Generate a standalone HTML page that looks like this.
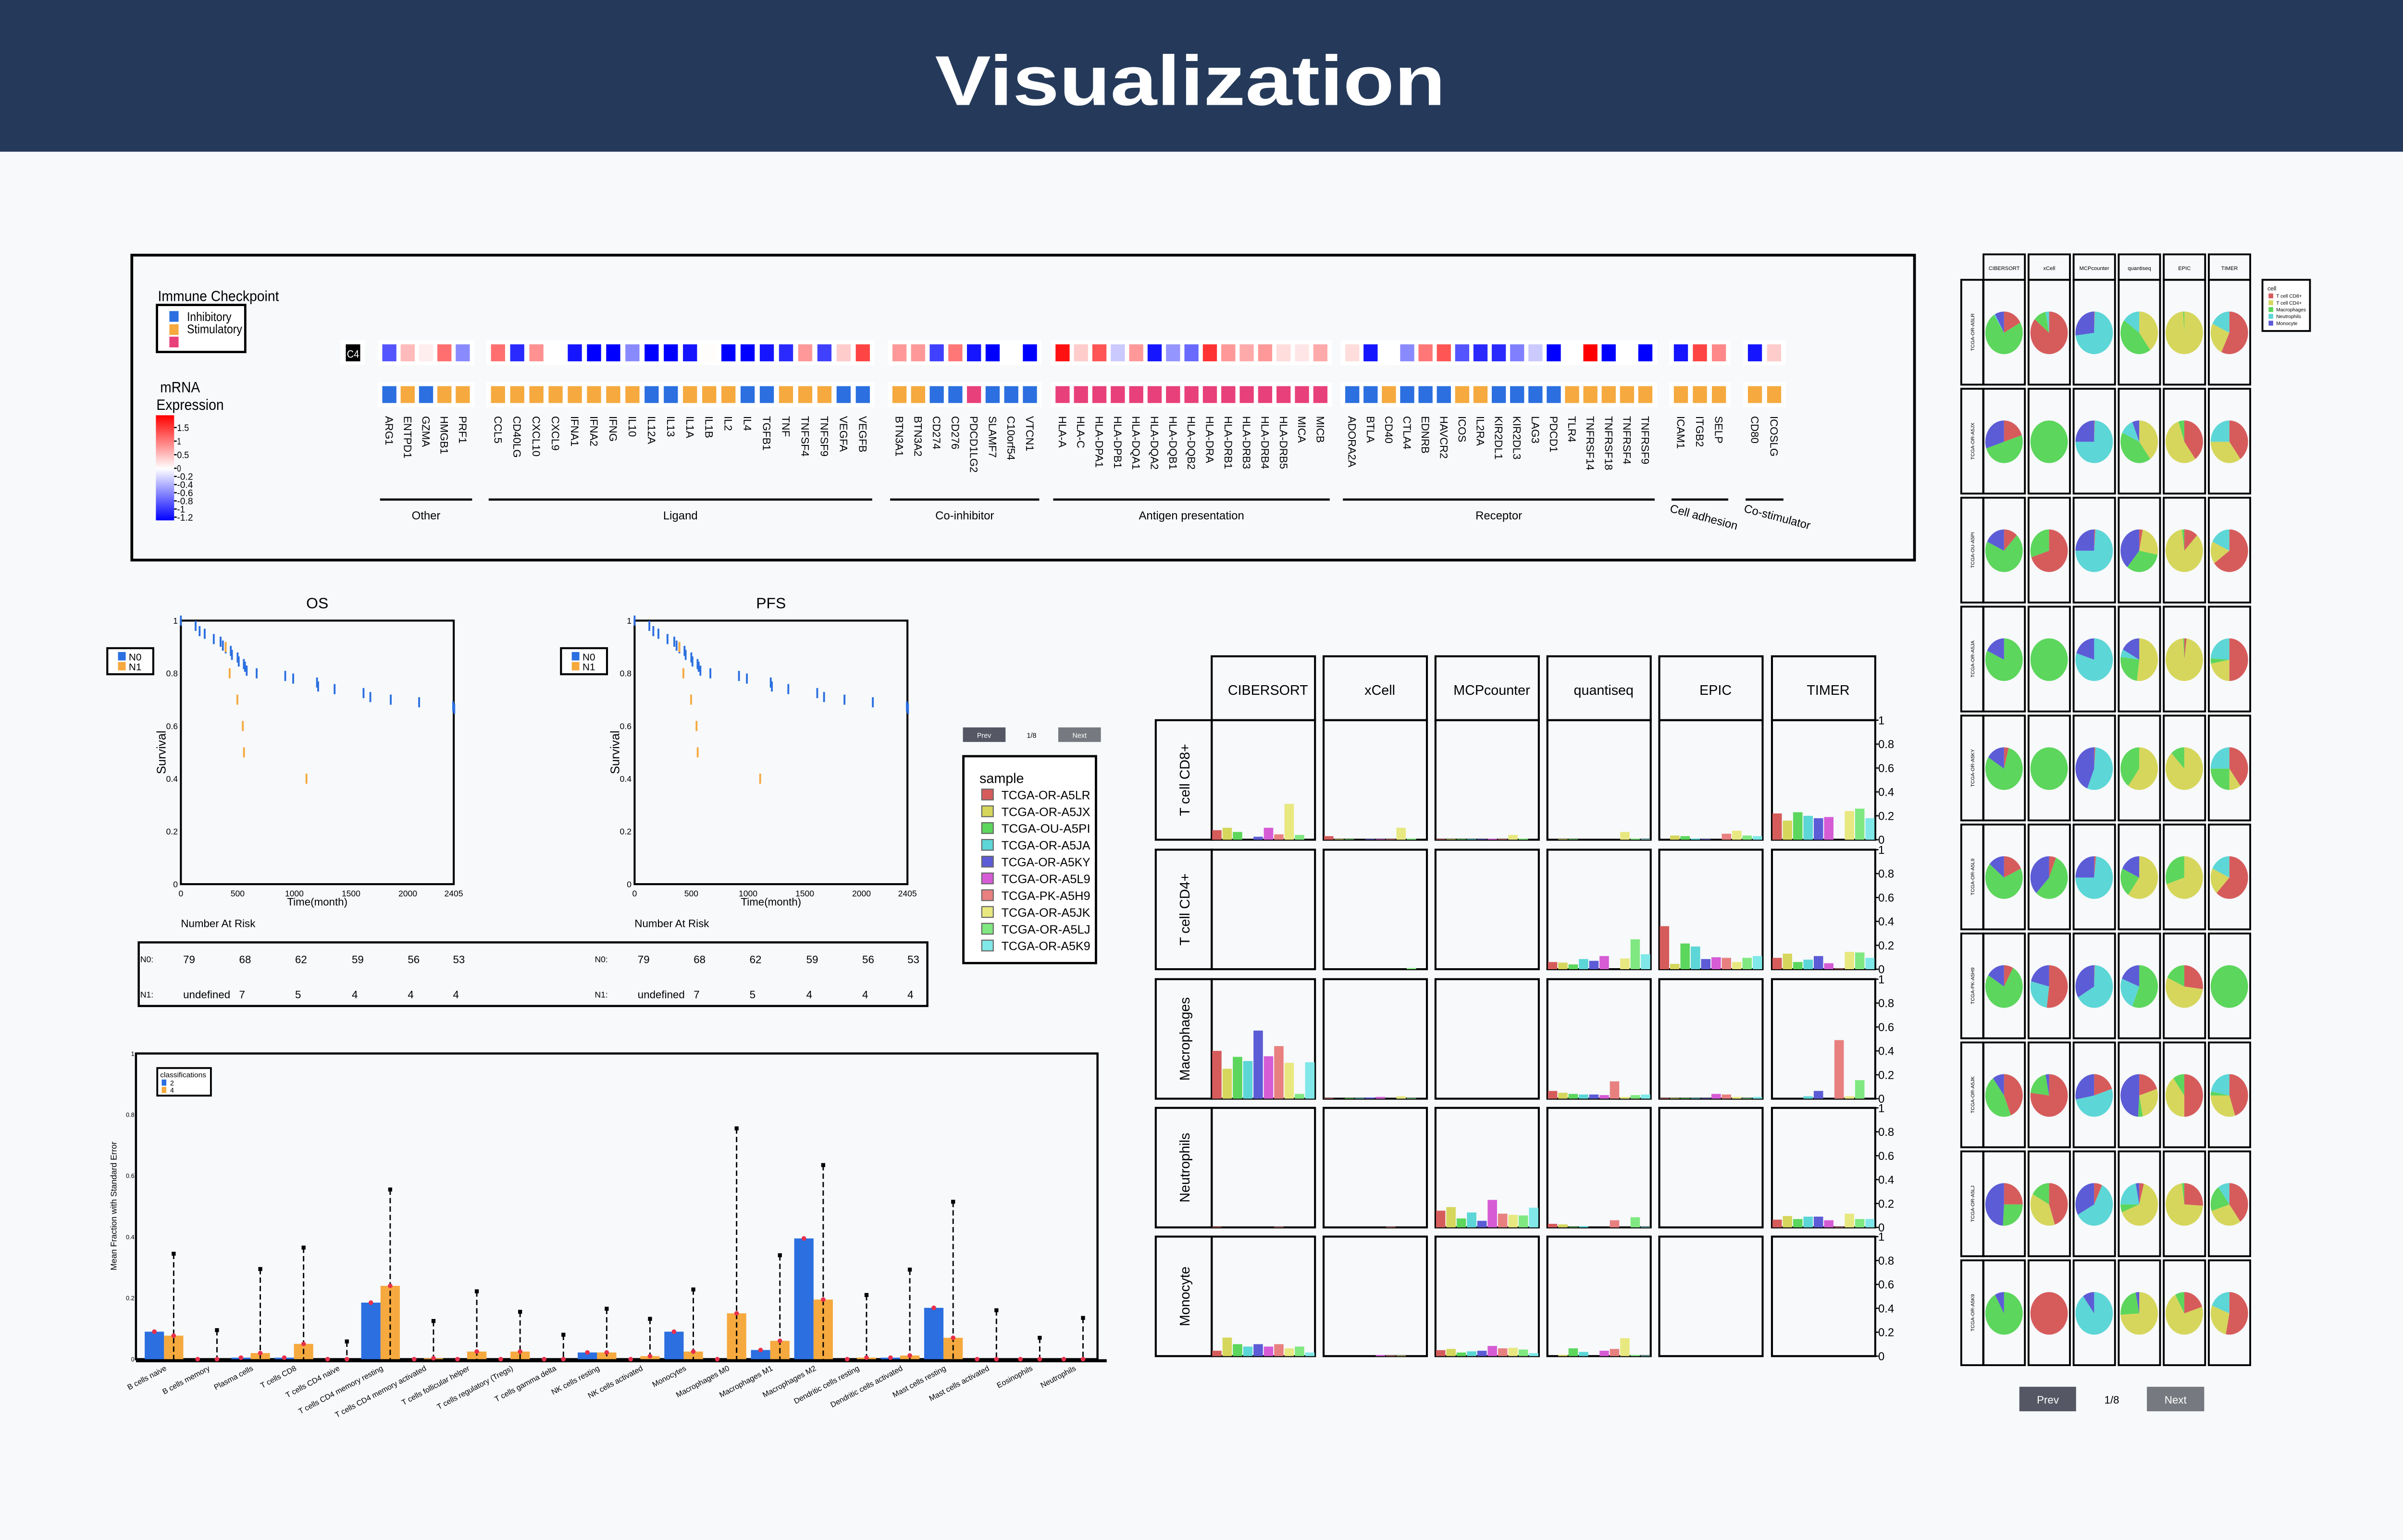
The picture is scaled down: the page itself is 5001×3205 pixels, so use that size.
<!DOCTYPE html>
<html><head><meta charset="utf-8"><style>
html,body{margin:0;padding:0;background:#f7f9fb;}
svg{display:block;font-family:"Liberation Sans",Arial,sans-serif;}
</style></head><body>
<svg id="root" xmlns="http://www.w3.org/2000/svg" width="5001" height="3205" viewBox="0 0 1568 1005" preserveAspectRatio="none">
<rect x="0" y="0" width="1568" height="1005" fill="#f7f9fb"/>
<rect x="0" y="0" width="1568" height="99" fill="#253a5a"/>
<text x="776.5" y="68.5" font-size="46" font-weight="bold" fill="#ffffff" text-anchor="middle" textLength="333" lengthAdjust="spacingAndGlyphs">Visualization</text>
<rect x="86" y="166.5" width="1163" height="199" fill="none" stroke="#000" stroke-width="1.8"/>
<text x="103" y="196.4" font-size="9.5" textLength="79" lengthAdjust="spacingAndGlyphs">Immune Checkpoint</text>
<rect x="102.4" y="199" width="57.6" height="30.7" fill="#fff" stroke="#000" stroke-width="1.5"/>
<rect x="110.5" y="203" width="6" height="7" fill="#2b6fe0"/>
<rect x="110.5" y="211.6" width="6" height="7" fill="#f5a93e"/>
<rect x="110.5" y="219.7" width="6" height="7" fill="#e8407a"/>
<text x="122" y="209.5" font-size="8" textLength="29" lengthAdjust="spacingAndGlyphs">Inhibitory</text>
<text x="122" y="217.5" font-size="8" textLength="36" lengthAdjust="spacingAndGlyphs">Stimulatory</text>
<text x="104.5" y="256" font-size="10" textLength="26" lengthAdjust="spacingAndGlyphs">mRNA</text>
<text x="102" y="267.5" font-size="10" textLength="44" lengthAdjust="spacingAndGlyphs">Expression</text>
<defs><linearGradient id="cbar" x1="0" y1="0" x2="0" y2="1">
<stop offset="0" stop-color="#ff0000"/><stop offset="0.508" stop-color="#ffffff"/><stop offset="1" stop-color="#0000ff"/></linearGradient></defs>
<rect x="101.7" y="271" width="11.9" height="68.6" fill="url(#cbar)"/>
<g id="hm"></g>
<g id="km"></g>
<g id="bars"></g>
<g id="grid"></g>
<g id="pies"></g>
</svg>
<script>
// ===== Heatmap data =====
const hmGroupNames = ["Other","Ligand","Co-inhibitor","Antigen presentation","Receptor","Cell adhesion","Co-stimulator"];
const hmGenes = [
 ["ARG1","ENTPD1","GZMA","HMGB1","PRF1"],
 ["CCL5","CD40LG","CXCL10","CXCL9","IFNA1","IFNA2","IFNG","IL10","IL12A","IL13","IL1A","IL1B","IL2","IL4","TGFB1","TNF","TNFSF4","TNFSF9","VEGFA","VEGFB"],
 ["BTN3A1","BTN3A2","CD274","CD276","PDCD1LG2","SLAMF7","C10orf54","VTCN1"],
 ["HLA-A","HLA-C","HLA-DPA1","HLA-DPB1","HLA-DQA1","HLA-DQA2","HLA-DQB1","HLA-DQB2","HLA-DRA","HLA-DRB1","HLA-DRB3","HLA-DRB4","HLA-DRB5","MICA","MICB"],
 ["ADORA2A","BTLA","CD40","CTLA4","EDNRB","HAVCR2","ICOS","IL2RA","KIR2DL1","KIR2DL3","LAG3","PDCD1","TLR4","TNFRSF14","TNFRSF18","TNFRSF4","TNFRSF9"],
 ["ICAM1","ITGB2","SELP"],
 ["CD80","ICOSLG"]];
const hmExpr = [
 [-0.8,0.4,0.1,0.85,-0.55],
 [0.85,-1.0,0.65,0,-1.1,-1.2,-1.2,-0.55,-1.2,-1.2,-1.1,0.02,-1.2,-1.2,-1.1,-1.0,0.6,-0.9,0.3,1.1],
 [0.6,0.6,-0.9,0.8,-1.1,-1.2,0,-1.2],
 [1.4,0.3,1.0,-0.25,0.6,-1.1,-0.5,-0.7,1.2,0.6,0.5,0.6,0.2,0.15,0.5],
 [0.2,-1.1,0,-0.55,0.8,1.0,-0.8,-1.0,-1.0,-0.6,-0.25,-1.2,0,1.5,-1.2,0,-1.2],
 [-1.1,1.1,0.7],
 [-1.1,0.3]];
const hmType = [
 "BOBOO","OOOOOOOOBBOOOBBOOOBB","OOBBPBBB","PPPPPPPPPPPPPPP","BBOBBBOOBBBBOOOOO","OOO","OO"];
const cbTickLabels = ["1.5","1","0.5","0","-0.2","-0.4","-0.6","-0.8","-1","-1.2"];
const cbTickValues = [1.5,1,0.5,0,-0.2,-0.4,-0.6,-0.8,-1,-1.2];

// ===== KM data =====
const kmTicks = ["0","500","1000","1500","2000","2405"];
const kmTickVals = [0,500,1000,1500,2000,2405];
const kmYTicks = [0,0.2,0.4,0.6,0.8,1];
const n0Time = [0,130,165,210,290,350,370,395,440,450,500,510,555,565,580,668,920,990,1200,1210,1355,1610,1670,1850,2100,2400,2410];
const n0Surv = [1,0.98,0.96,0.95,0.93,0.92,0.905,0.895,0.885,0.87,0.86,0.845,0.835,0.825,0.81,0.8,0.79,0.78,0.765,0.75,0.74,0.725,0.71,0.70,0.69,0.675,0.665];
const n1Time = [395,430,498,546,556,1107];
const n1Surv = [0.9,0.8,0.7,0.6,0.5,0.4];
const riskN0 = ["79","68","62","59","56","53"];
const riskN1 = ["undefined","7","5","4","4","4"];

// ===== CIBERSORT bar chart data =====
const bcCats = ["B cells naive","B cells memory","Plasma cells","T cells CD8","T cells CD4 naive","T cells CD4 memory resting","T cells CD4 memory activated","T cells follicular helper","T cells regulatory (Tregs)","T cells gamma delta","NK cells resting","NK cells activated","Monocytes","Macrophages M0","Macrophages M1","Macrophages M2","Dendritic cells resting","Dendritic cells activated","Mast cells resting","Mast cells activated","Eosinophils","Neutrophils"];
const bcBlue = [0.09,0,0.005,0.005,0,0.185,0,0,0,0,0.022,0,0.09,0,0.03,0.395,0,0.005,0.168,0,0,0];
const bcOrange = [0.077,0,0.02,0.05,0,0.24,0.003,0.025,0.025,0,0.022,0.01,0.025,0.15,0.06,0.195,0.005,0.012,0.07,0,0,0];
const bcErr = [0.345,0.095,0.295,0.365,0.058,0.555,0.125,0.222,0.155,0.08,0.165,0.132,0.228,0.755,0.34,0.635,0.21,0.293,0.515,0.16,0.07,0.135];
const bcYTicks = [0,0.2,0.4,0.6,0.8,1];

// ===== Grid data =====
const methods = ["CIBERSORT","xCell","MCPcounter","quantiseq","EPIC","TIMER"];
const cellTypes = ["T cell CD8+","T cell CD4+","Macrophages","Neutrophils","Monocyte"];
const samples = ["TCGA-OR-A5LR","TCGA-OR-A5JX","TCGA-OU-A5PI","TCGA-OR-A5JA","TCGA-OR-A5KY","TCGA-OR-A5L9","TCGA-PK-A5H9","TCGA-OR-A5JK","TCGA-OR-A5LJ","TCGA-OR-A5K9"];
const sampleColors = ["#d65c5c","#d6d65c","#5cd65c","#5cd6d6","#5c5cd6","#d65cd6","#e88080","#e8e880","#80e880","#80e8e8"];
const gridYTicks = [0,0.2,0.4,0.6,0.8,1];
const z10 = [0,0,0,0,0,0,0,0,0,0];
const gCD8 = [
 [0.08,0.1,0.065,0,0.025,0.1,0.045,0.3,0.04,0],
 [0.03,0.005,0.005,0,0.005,0.005,0.005,0.1,0.01,0],
 [0.005,0.005,0.005,0.005,0.005,0.008,0.005,0.04,0.01,0],
 [0,0.005,0.005,0,0,0,0,0.065,0.01,0.005],
 [0,0.035,0.03,0.01,0.005,0,0.05,0.075,0.035,0.03],
 [0.22,0.16,0.23,0.2,0.18,0.19,0,0.24,0.26,0.18]];
const gCD4 = [
 z10,
 [0,0,0,0,0,0,0,0,0.01,0],
 z10,
 [0.06,0.055,0.04,0.085,0.07,0.11,0,0.09,0.25,0.125],
 [0.36,0.045,0.215,0.19,0.085,0.1,0.095,0.06,0.095,0.11],
 [0.095,0.13,0.06,0.08,0.11,0.05,0.005,0.145,0.14,0.095]];
const gMac = [
 [0.4,0.25,0.35,0.315,0.57,0.355,0.44,0.3,0.04,0.305],
 [0.005,0,0.005,0.005,0.01,0.015,0,0.02,0.005,0],
 z10,
 [0.065,0.05,0.04,0.035,0.035,0.03,0.145,0.015,0.03,0.035],
 [0.005,0.005,0.005,0.005,0.005,0.04,0.035,0.015,0.005,0.015],
 [0,0,0,0.02,0.065,0,0.49,0.02,0.155,0]];
const gNeu = [
 [0.005,0,0,0,0,0,0.005,0,0,0],
 [0,0,0,0,0,0,0.005,0,0,0],
 [0.14,0.17,0.075,0.125,0.055,0.23,0.115,0.105,0.1,0.165],
 [0.03,0.025,0.005,0.01,0,0,0.06,0,0.085,0.005],
 z10,
 [0.065,0.095,0.07,0.09,0.09,0.06,0.005,0.115,0.07,0.07]];
const gMono = [
 [0.045,0.155,0.1,0.08,0.1,0.08,0.1,0.065,0.08,0.03],
 [0,0,0,0,0,0.01,0.005,0.005,0,0],
 [0.05,0.06,0.03,0.04,0.045,0.085,0.065,0.07,0.055,0.025],
 [0,0.01,0.065,0.035,0,0.045,0.06,0.15,0.01,0.005],
 z10, z10];
const gridValues = [gCD8,gCD4,gMac,gNeu,gMono];

// ===== Pie data: per sample, per method: [CD8, CD4, Mac, Neu, Mono] =====
const pieColors = ["#d65c5c","#d6d65c","#5cd65c","#5cd6d6","#5c5cd6"];
const pieA5LR = [[0.17,0,0.74,0.01,0.08],[0.86,0,0.11,0.03,0],[0.005,0,0,0.725,0.27],[0,0.4,0.45,0.15,0],[0,0.99,0.01,0,0],[0.57,0.25,0,0.18,0]];
const pieA5JX = [[0.2,0,0.5,0,0.3],[0,0,1,0,0],[0.005,0,0,0.745,0.25],[0,0.4,0.42,0.12,0.06],[0.4,0.55,0.05,0,0],[0.4,0.35,0,0.25,0]];
const pieA5PI = [[0.12,0,0.7,0,0.18],[0.7,0,0.3,0,0],[0.01,0,0,0.74,0.25],[0.03,0.25,0.33,0,0.39],[0.12,0.86,0.02,0,0],[0.65,0.17,0,0.18,0]];
const pieA5JA = [[0,0,0.82,0,0.18],[0,0,1,0,0],[0,0,0,0.8,0.2],[0,0.52,0.25,0.06,0.17],[0.02,0.97,0.01,0,0],[0.5,0.22,0.04,0.24,0]];
const pieA5KY = [[0.04,0,0.8,0,0.16],[0,0,1,0,0],[0.01,0,0,0.55,0.44],[0,0.6,0.4,0,0],[0,0.88,0.12,0,0],[0.4,0.1,0.25,0.25,0]];
const pieA5L9 = [[0.18,0,0.68,0,0.14],[0.06,0,0.56,0,0.38],[0.015,0,0,0.735,0.25],[0,0.6,0.22,0,0.18],[0,0.7,0.3,0,0],[0.62,0.2,0,0.18,0]];
const pieA5H9 = [[0.08,0,0.76,0,0.16],[0.52,0,0,0.27,0.21],[0.005,0,0,0.66,0.335],[0,0,0.56,0.25,0.19],[0.27,0.55,0.18,0,0],[0,0,1,0,0]];
const pieA5JK = [[0.44,0,0.46,0,0.1],[0.77,0,0.2,0,0.03],[0.2,0,0,0.52,0.28],[0.2,0.27,0.04,0,0.49],[0.5,0.4,0.1,0,0],[0.45,0.3,0.03,0.22,0]];
const pieA5LJ = [[0.25,0,0.26,0,0.49],[0.45,0.38,0.17,0,0],[0.07,0,0,0.6,0.33],[0.04,0.65,0.06,0.22,0.03],[0.26,0.72,0.02,0,0],[0.4,0.3,0.2,0.1,0]];
const pieA5K9 = [[0,0,0.92,0,0.08],[1,0,0,0,0],[0,0,0,0.9,0.1],[0,0.74,0.23,0,0.03],[0.2,0.72,0.08,0,0],[0.53,0.28,0,0.19,0]];
const pieData = [pieA5LR,pieA5JX,pieA5PI,pieA5JA,pieA5KY,pieA5L9,pieA5H9,pieA5JK,pieA5LJ,pieA5K9];
const pieLegendLabels = ["T cell CD8+","T cell CD4+","Macrophages","Neutrophils","Monocyte"];

const NS = "http://www.w3.org/2000/svg";
function mk(tag, at, p){ const e=document.createElementNS(NS,tag); for(const k in at) e.setAttribute(k,at[k]); p.appendChild(e); return e; }
function txt(s, at, p){ const e=mk("text",at,p); e.textContent=s; return e; }

// ---------- Heatmap ----------
(function(){
 const g=document.getElementById("hm");
 const starts=[249.4,320.3,582.2,688.6,877.6,1092,1140.3];
 const ends=[306.5,567.5,676.5,866,1078,1126,1162];
 const cw=9.2;
 function exprColor(v){
   if(v>=0){const t=Math.min(v/1.5,1);const c=Math.round(255*(1-t));return `rgb(255,${c},${c})`;}
   const t=Math.min(-v/1.2,1);const c=Math.round(255*(1-t));return `rgb(${c},${c},255)`;
 }
 const typeCol={B:"#2b6fe0",O:"#f5a93e",P:"#e8407a"};
 let bg=mk("rect",{x:222,y:222,width:16,height:16,fill:"#fff"},g);
 
 
 let c4=mk("rect",{x:225.6,y:224.7,width:9.4,height:11.1,fill:"#000"},g);
 
 
 let c4t=txt("C4",{x:230.3,y:233.5,"font-size":7,fill:"#fff","text-anchor":"middle",textLength:8,lengthAdjust:"spacingAndGlyphs"},g);
 
 
 const cbY=v=> v>=0 ? 305.6-(v/1.5)*26.6 : 305.6+(-v/1.2)*31.9;
 cbTickValues.forEach((v,i)=>{
   const y=cbY(v);
   const tk=mk("line",{x1:113.6,x2:115.3,y1:y,y2:y,stroke:"#000","stroke-width":0.8},g);
   
   
   const tl=txt(cbTickLabels[i],{x:115.5,y:y+2.2,"font-size":6,textLength:cbTickLabels[i].length*2.6,lengthAdjust:"spacingAndGlyphs"},g);
   
   
 });
 hmGenes.forEach((genes,gi)=>{
   const n=genes.length;
   const pitch=n>1?(ends[gi]-starts[gi]-cw)/(n-1):0;
   const x0=starts[gi];
   const b1=mk("rect",{x:x0-3,y:222,width:(ends[gi]-x0)+6,height:16.3,fill:"#fff"},g);
   
   
   const b2=mk("rect",{x:x0-3,y:249.5,width:(ends[gi]-x0)+6,height:16.2,fill:"#fff"},g);
   
   
   genes.forEach((gn,i)=>{
     const x=x0+i*pitch;
     const c=mk("rect",{x:x,y:224.7,width:cw,height:11.1,fill:exprColor(hmExpr[gi][i])},g);
     
     
     const t=mk("rect",{x:x,y:252,width:cw,height:11,fill:typeCol[hmType[gi][i]]},g);
     
     
     const l=txt(gn,{x:0,y:0,"font-size":7,transform:`translate(${x+cw/2-2.5},271.5) rotate(90)`},g);
     
     
   });
   const ln=mk("line",{x1:x0-1.5,x2:ends[gi]+1.5,y1:326,y2:326,stroke:"#000","stroke-width":1.4},g);
   
   
   let lab;
   if(gi<5){
     lab=txt(hmGroupNames[gi],{x:(x0+ends[gi])/2,y:339,"font-size":7.5,"text-anchor":"middle"},g);
   } else {
     lab=txt(hmGroupNames[gi],{x:0,y:0,"font-size":7.5,transform:`translate(${x0-3},334) rotate(15)`},g);
   }
   
   
 });
})();

// ---------- KM plots ----------
(function(){
 const g=document.getElementById("km");
 function plot(px,title,riskX){
   const x0=px, x1=px+178, y0=405, y1=577;
   const sx=t=>x0+(t/2405)*(x1-x0);
   const sy=s=>y1-s*(y1-y0);
   const tt=txt(title,{x:(x0+x1)/2,y:397,"font-size":10,"text-anchor":"middle"},g);
   
   
   const fr=mk("rect",{x:x0,y:y0,width:x1-x0,height:y1-y0,fill:"none",stroke:"#000","stroke-width":1.3},g);
   
   
   kmYTicks.forEach(v=>{
     const l=txt(String(v),{x:x0-2,y:sy(v)+2,"font-size":5.5,"text-anchor":"end"},g);
     
     
   });
   kmTickVals.forEach((v,i)=>{
     const l=txt(kmTicks[i],{x:sx(v),y:y1+8,"font-size":5.5,"text-anchor":"middle"},g);
     
     
   });
   const xt=txt("Time(month)",{x:(x0+x1)/2,y:591,"font-size":7,"text-anchor":"middle"},g);
   
   
   const yt=txt("Survival",{x:0,y:0,"font-size":8,"text-anchor":"middle",transform:`translate(${x0-10},${(y0+y1)/2}) rotate(-90)`},g);
   
   
   n0Time.forEach((t,i)=>{
     const m=mk("line",{x1:sx(t),x2:sx(t),y1:sy(n0Surv[i])-3.3,y2:sy(n0Surv[i])+3.3,stroke:"#2b6fe0","stroke-width":1.2},g);
     
     
   });
   n1Time.forEach((t,i)=>{
     const m=mk("line",{x1:sx(t),x2:sx(t),y1:sy(n1Surv[i])-3.3,y2:sy(n1Surv[i])+3.3,stroke:"#f5a93e","stroke-width":1.2},g);
     
     
   });
   const lx=x0-48;
   const lb=mk("rect",{x:lx,y:423,width:30,height:17,fill:"#fff",stroke:"#000","stroke-width":1.3},g);
   
   
   const s0=mk("rect",{x:lx+7,y:425.5,width:5,height:5.5,fill:"#2b6fe0"},g);
   
   
   const s1=mk("rect",{x:lx+7,y:432,width:5,height:5.5,fill:"#f5a93e"},g);
   
   
   const t0=txt("N0",{x:lx+14,y:431,"font-size":6.5},g);
   
   
   const t1=txt("N1",{x:lx+14,y:437.5,"font-size":6.5},g);
   
   
   const nr=txt("Number At Risk",{x:x0,y:605,"font-size":7},g);
   
   
   const rl0=txt("N0:",{x:riskX-28,y:628,"font-size":5.5},g);
   
   
   const rl1=txt("N1:",{x:riskX-28,y:651,"font-size":5.5},g);
   
   
   const cx=[0,36.5,73,110,146.5,176];
   riskN0.forEach((v,i)=>{
     const e=txt(v,{x:riskX+cx[i],y:628.5,"font-size":7},g);
     
     
   });
   riskN1.forEach((v,i)=>{
     const e=txt(v,{x:riskX+cx[i],y:651.5,"font-size":7},g);
     
     
   });
 }
 plot(118,"OS",119.5);
 plot(414,"PFS",416);
 const tb=mk("rect",{x:90.5,y:615,width:514.5,height:41.5,fill:"none",stroke:"#000","stroke-width":1.4},g);
 
 
})();

// ---------- Middle controls + sample legend ----------
(function(){
 const g=document.getElementById("grid");
 const p=mk("rect",{x:628.2,y:474.7,width:27.8,height:9.5,fill:"#555764"},g);
 
 
 const pt=txt("Prev",{x:642,y:481.5,"font-size":4.5,fill:"#fff","text-anchor":"middle"},g);
 
 
 const pg=txt("1/8",{x:673,y:481.5,"font-size":4.5,"text-anchor":"middle"},g);
 
 
 const n=mk("rect",{x:690.4,y:474.7,width:27.8,height:9.5,fill:"#777980"},g);
 
 
 const nt=txt("Next",{x:704.3,y:481.5,"font-size":4.5,fill:"#fff","text-anchor":"middle"},g);
 
 
 const lb=mk("rect",{x:628.5,y:493.5,width:86.5,height:135,fill:"#fff",stroke:"#000","stroke-width":1.5},g);
 
 
 const st=txt("sample",{x:639,y:511,"font-size":9},g);
 
 
 samples.forEach((s,i)=>{
   const y=515+i*10.95;
   const sw=mk("rect",{x:640.5,y:y,width:7.5,height:7,fill:sampleColors[i],stroke:"#666","stroke-width":0.7},g);
   
   
   const tl=txt(s,{x:653.3,y:y+6.6,"font-size":7.8,textLength:58,lengthAdjust:"spacingAndGlyphs"},g);
   
   
 });
})();

// ---------- CIBERSORT bar chart ----------
(function(){
 const g=document.getElementById("bars");
 const x0=88.7,x1=716,y0=687.5,y1=887;
 const sy=v=>y1-v*(y1-y0);
 const fr=mk("rect",{x:x0,y:y0,width:x1-x0,height:y1-y0,fill:"none",stroke:"#000","stroke-width":1.4},g);
 
 
 const base=mk("line",{x1:x0,x2:722,y1:888,y2:888,stroke:"#000","stroke-width":2},g);
 
 
 bcYTicks.forEach(v=>{
   const l=txt(String(v),{x:x0-1,y:sy(v)+1.5,"font-size":4,"text-anchor":"end"},g);
   
   
 });
 const yt=txt("Mean Fraction with Standard Error",{x:0,y:0,"font-size":5.5,"text-anchor":"middle",transform:`translate(76,787) rotate(-90)`},g);
 
 
 const pitch=28.25, bw=12.6;
 bcCats.forEach((c,i)=>{
   const cx=107+i*pitch;
   const b=mk("rect",{x:cx-bw,y:sy(bcBlue[i]),width:bw,height:bcBlue[i]*(y1-y0),fill:"#2b6fe0"},g);
   
   
   const o=mk("rect",{x:cx,y:sy(bcOrange[i]),width:bw,height:bcOrange[i]*(y1-y0),fill:"#f5a93e"},g);
   
   
   const ex=cx+bw/2;
   const el=mk("line",{x1:ex,x2:ex,y1:sy(bcErr[i]),y2:y1,stroke:"#000","stroke-width":0.9,"stroke-dasharray":"3.5,2"},g);
   
   
   const ec=mk("rect",{x:ex-1.3,y:sy(bcErr[i])-1.3,width:2.6,height:2.6,fill:"#000"},g);
   
   
   const d1=mk("circle",{cx:cx-bw/2,cy:sy(bcBlue[i]),r:1.5,fill:"#e8304a"},g);
   
   
   const d2=mk("circle",{cx:cx+bw/2,cy:sy(bcOrange[i]),r:1.5,fill:"#e8304a"},g);
   
   
   const lab=txt(c,{x:0,y:0,"font-size":5,"text-anchor":"end",transform:`translate(${cx+2},${894}) rotate(-28)`},g);
   
   
 });
 const lb=mk("rect",{x:102.6,y:697,width:35,height:18,fill:"#fff",stroke:"#000","stroke-width":1.2},g);
 
 
 const lt=txt("classifications",{x:104.5,y:703,"font-size":4.5,textLength:30,lengthAdjust:"spacingAndGlyphs"},g);
 
 
 const s1=mk("rect",{x:105.5,y:704.5,width:3,height:4,fill:"#2b6fe0"},g);
 
 
 const s2=mk("rect",{x:105.5,y:709.3,width:3,height:4,fill:"#f5a93e"},g);
 
 
 const t1=txt("2",{x:111,y:708.3,"font-size":4.5},g);
 
 
 const t2=txt("4",{x:111,y:713,"font-size":4.5},g);
 
 
})();

// ---------- Deconvolution grid ----------
(function(){
 const g=document.getElementById("grid");
 const colX=[790.5,863.5,936.5,1009.5,1082.5,1156];
 const cw=67.4;
 const rowY=[470,554.5,639,723,807];
 const rh=78;
 methods.forEach((m,j)=>{
   const h=mk("rect",{x:colX[j],y:428.3,width:cw,height:41.7,fill:"none",stroke:"#000","stroke-width":1.3},g);
   
   
   const t=txt(m,{x:colX[j]+cw/2+3,y:453.5,"font-size":9,"text-anchor":"middle"},g);
   
   
 });
 cellTypes.forEach((ct,r)=>{
   const y0=rowY[r];
   const lb=mk("rect",{x:754,y:y0,width:36.5,height:rh,fill:"none",stroke:"#000","stroke-width":1.3},g);
   
   
   const lt=txt(ct,{x:0,y:0,"font-size":9,"text-anchor":"middle",transform:`translate(776,${y0+rh/2}) rotate(-90)`},g);
   
   
   methods.forEach((m,j)=>{
     const x0=colX[j];
     const fr=mk("rect",{x:x0,y:y0,width:cw,height:rh,fill:"none",stroke:"#000","stroke-width":1.3},g);
     
     
     const vals=gridValues[r][j];
     const bw=cw/10;
     vals.forEach((v,k)=>{
       const hgt=v*rh;
       const b=mk("rect",{x:x0+k*bw+0.3,y:y0+rh-hgt,width:bw-0.6,height:hgt,fill:sampleColors[k]},g);
       
       
     });
   });
   const ax=mk("line",{x1:1223.4,x2:1223.4,y1:y0,y2:y0+rh,stroke:"#000","stroke-width":1},g);
   
   
   gridYTicks.forEach(v=>{
     const yy=y0+rh-v*rh;
     const tk=mk("line",{x1:1223.4,x2:1225.5,y1:yy,y2:yy,stroke:"#000","stroke-width":0.8},g);
     
     
     const tl=txt(String(v),{x:1225.3,y:yy+2.7,"font-size":7.5},g);
     
     
   });
 });
})();

// ---------- Pie grid ----------
(function(){
 const g=document.getElementById("pies");
 const colX=[1294,1323.4,1352.8,1382.2,1411.6,1441];
 const cw=27;
 const rowY0=182.6, rp=71.1, rh=68.4;
 methods.forEach((m,j)=>{
   const h=mk("rect",{x:colX[j],y:166,width:cw,height:16.6,fill:"none",stroke:"#000","stroke-width":1.2},g);
   
   
   const t=txt(m,{x:colX[j]+cw/2,y:176.3,"font-size":3.5,"text-anchor":"middle"},g);
   
   
 });
 samples.forEach((s,r)=>{
   const y0=rowY0+r*rp;
   const lb=mk("rect",{x:1279.5,y:y0,width:14.3,height:rh,fill:"none",stroke:"#000","stroke-width":1.2},g);
   
   
   const lt=txt(s,{x:0,y:0,"font-size":3.3,"text-anchor":"middle",transform:`translate(1288,${y0+rh/2}) rotate(-90)`},g);
   
   
   methods.forEach((m,j)=>{
     const x0=colX[j];
     const fr=mk("rect",{x:x0,y:y0,width:cw,height:rh,fill:"none",stroke:"#000","stroke-width":1.2},g);
     
     
     const cx=x0+13.4, cy=y0+34.6, rx=12.2, ry=13.9;
     const fr2=pieData[r][j];
     const tot=fr2.reduce((a,b)=>a+b,0);
     let acc=0;
     fr2.forEach((v,k)=>{
       if(v<=0) return;
       const f=v/tot;
       let e;
       if(f>0.9999){
         e=mk("ellipse",{cx:cx,cy:cy,rx:rx,ry:ry,fill:pieColors[k]},g);
       } else {
         const a0=acc*2*Math.PI, a1=(acc+f)*2*Math.PI;
         const p0=[cx+rx*Math.sin(a0),cy-ry*Math.cos(a0)], p1=[cx+rx*Math.sin(a1),cy-ry*Math.cos(a1)];
         e=mk("path",{d:`M${cx},${cy}L${p0[0]},${p0[1]}A${rx},${ry} 0 ${f>0.5?1:0} 1 ${p1[0]},${p1[1]}Z`,fill:pieColors[k]},g);
       }
       
       
       acc+=f;
     });
   });
 });
 const lb=mk("rect",{x:1476,y:182.6,width:31,height:33.4,fill:"#fff",stroke:"#000","stroke-width":1.2},g);
 
 
 const lt=txt("cell",{x:1479.3,y:189.5,"font-size":3.8},g);
 
 
 pieLegendLabels.forEach((l,k)=>{
   const y=191.5+k*4.45;
   const sw=mk("rect",{x:1480,y:y,width:3,height:3.2,fill:pieColors[k]},g);
   
   
   const t=txt(l,{x:1485,y:y+2.8,"font-size":3.2},g);
   
   
 });
 const p=mk("rect",{x:1317.4,y:905,width:37,height:16,fill:"#555764"},g);
 
 
 const pt=txt("Prev",{x:1336,y:916,"font-size":7,fill:"#fff","text-anchor":"middle"},g);
 
 
 const pg=txt("1/8",{x:1377.7,y:916,"font-size":7,"text-anchor":"middle"},g);
 
 
 const n=mk("rect",{x:1400.6,y:905,width:37.4,height:16,fill:"#777980"},g);
 
 
 const nt=txt("Next",{x:1419.3,y:916,"font-size":7,fill:"#fff","text-anchor":"middle"},g);
 
 
})();
</script>
</body></html>
